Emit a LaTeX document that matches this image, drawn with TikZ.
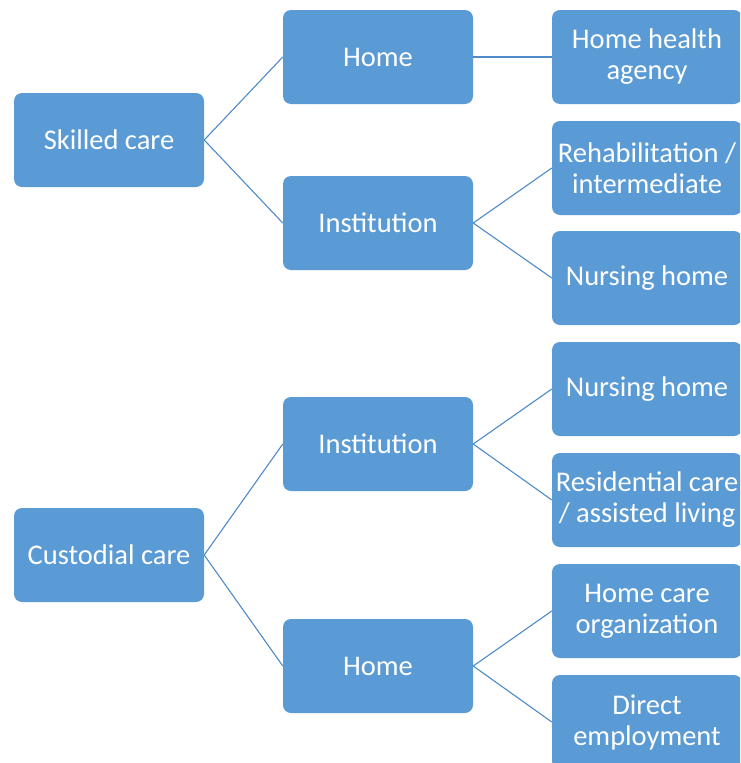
\documentclass[tikz,border=0pt]{standalone}
\usepackage{fontspec}
\setmainfont{Carlito}
\definecolor{boxblue}{HTML}{5B9BD5}
\definecolor{lineblue}{HTML}{4F8BC9}
\begin{document}
\begin{tikzpicture}[x=1pt,y=-1pt,
  box/.style={rectangle, rounded corners=8pt, fill=boxblue, draw=none,
    minimum width=190pt, minimum height=94pt, inner sep=0pt,
    text=white, align=center, font=\fontsize{28.5}{31}\selectfont},
  link/.style={draw=lineblue, line width=1.1pt}]
\clip (0,0) rectangle (740,763);
\fill[white] (0,0) rectangle (740,763);
\node[box] (sc) at (109,140) {Skilled care};
\node[box] (cc) at (109,555) {Custodial care};
\node[box] (h1) at (378,57) {Home};
\node[box] (i1) at (378,223) {Institution};
\node[box] (i2) at (378,444) {Institution};
\node[box] (h2) at (378,666) {Home};
\node[box] (r1) at (647,57) {Home health\\agency};
\node[box] (r2) at (647,168) {Rehabilitation /\\intermediate};
\node[box] (r3) at (647,278) {Nursing home};
\node[box] (r4) at (647,389) {Nursing home};
\node[box] (r5) at (647,500) {Residential care\\/ assisted living};
\node[box] (r6) at (647,611) {Home care\\organization};
\node[box] (r7) at (647,722) {Direct\\employment};
\draw[link] (sc.east) -- (h1.west);
\draw[link] (sc.east) -- (i1.west);
\draw[link] (h1.east) -- (r1.west);
\draw[link] (i1.east) -- (r2.west);
\draw[link] (i1.east) -- (r3.west);
\draw[link] (cc.east) -- (i2.west);
\draw[link] (cc.east) -- (h2.west);
\draw[link] (i2.east) -- (r4.west);
\draw[link] (i2.east) -- (r5.west);
\draw[link] (h2.east) -- (r6.west);
\draw[link] (h2.east) -- (r7.west);
\end{tikzpicture}
\end{document}
